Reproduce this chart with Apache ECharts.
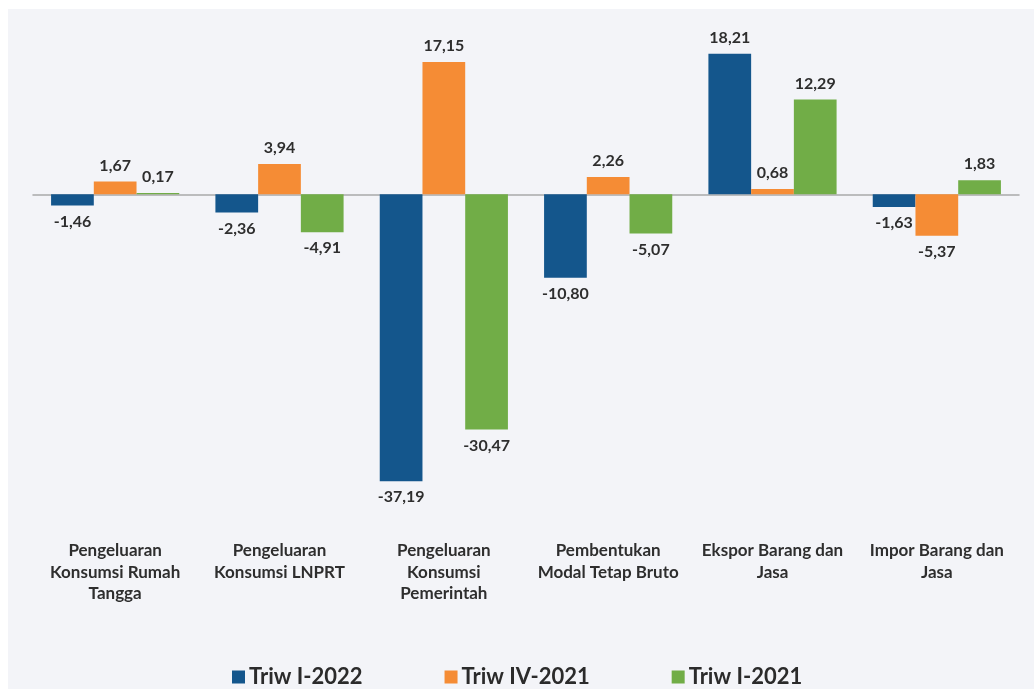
<!DOCTYPE html>
<html>
<head>
<meta charset="utf-8">
<script src="https://cdn.jsdelivr.net/npm/echarts@6/dist/echarts.min.js"></script>
<style>
  html, body { margin: 0; padding: 0; background: #ffffff; }
  #chart {
    position: absolute;
    left: 8px;
    top: 9px;
    width: 1026px;
    height: 680px;
    background: #f3f4f8;
  }
</style>
</head>
<body>
<div id="chart"></div>
<script>
// data
var categories = [
  'Pengeluaran\nKonsumsi Rumah\nTangga',
  'Pengeluaran\nKonsumsi LNPRT',
  'Pengeluaran\nKonsumsi\nPemerintah',
  'Pembentukan\nModal Tetap Bruto',
  'Ekspor Barang dan\nJasa',
  'Impor Barang dan\nJasa'
];
var seriesNames = ['Triw I-2022', 'Triw IV-2021', 'Triw I-2021'];
var triwI2022 = [-1.46, -2.36, -37.19, -10.80, 18.21, -1.63];
var triwIV2021 = [1.67, 3.94, 17.15, 2.26, 0.68, -5.37];
var triwI2021 = [0.17, -4.91, -30.47, -5.07, 12.29, 1.83];
var colors = ['#14568c', '#f58c35', '#71ad47'];

var myChart = echarts.init(document.getElementById('chart'));

function fmt(p) {
  return p.value.toFixed(2).replace('.', ',');
}

function makeSeries(name, data) {
  return {
    name: name,
    type: 'bar',
    barWidth: '26%',
    barGap: '0%',
    data: data.map(function (v) {
      return {
        value: v,
        label: {
          show: true,
          position: v >= 0 ? 'top' : 'bottom',
          distance: 8
        }
      };
    }),
    label: {
      formatter: fmt,
      color: '#2e2e2e',
      fontFamily: 'Lato',
      fontWeight: 'bold',
      fontSize: 16
    }
  };
}

var option = {
  color: colors,
  animation: false,
  grid: {
    left: 25,
    right: 15,
    top: 31,
    height: 463,
    containLabel: false
  },
  legend: {
    left: 219,
    top: 652,
    itemWidth: 13,
    itemHeight: 13,
    itemGap: 82,
    icon: 'rect',
    textStyle: {
      fontFamily: 'Lato',
      fontWeight: 'bold',
      fontSize: 22,
      color: '#2b2b2b',
      padding: [0, 0, 0, -1]
    },
    data: seriesNames
  },
  xAxis: [{
    type: 'category',
    data: categories,
    axisLine: {
      show: true,
      onZero: true,
      lineStyle: { color: '#a9a9a9', width: 1.5 }
    },
    axisTick: { show: false },
    axisLabel: { show: false },
    splitLine: { show: false }
  }, {
    type: 'category',
    data: categories,
    position: 'bottom',
    axisLine: { show: false, onZero: false },
    axisTick: { show: false },
    axisLabel: {
      margin: 37,
      interval: 0,
      color: '#2e2e2e',
      fontFamily: 'Lato',
      fontWeight: 'bold',
      fontSize: 17,
      lineHeight: 21.5
    },
    splitLine: { show: false }
  }],
  yAxis: {
    type: 'value',
    min: -40,
    max: 20,
    show: false,
    splitLine: { show: false }
  },
  series: [
    makeSeries(seriesNames[0], triwI2022),
    makeSeries(seriesNames[1], triwIV2021),
    makeSeries(seriesNames[2], triwI2021)
  ]
};

myChart.setOption(option);
</script>
</body>
</html>
